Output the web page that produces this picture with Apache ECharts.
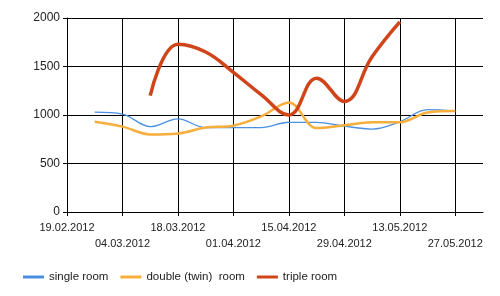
<!DOCTYPE html>
<html>
<head>
<meta charset="utf-8">
<script src="https://cdn.jsdelivr.net/npm/echarts@6/dist/echarts.min.js"></script>
<style>
html,body{margin:0;padding:0;background:#fff;}
#chart{width:500px;height:296px;}
</style>
</head>
<body>
<div id="chart"></div>
<script>
var categories = ['19.02.2012','26.02.2012','04.03.2012','11.03.2012','18.03.2012','25.03.2012','01.04.2012','08.04.2012','15.04.2012','22.04.2012','29.04.2012','06.05.2012','13.05.2012','20.05.2012','27.05.2012','03.06.2012'];
var singleRoom = [null,1030,1010,880,960,870,870,870,925,925,885,855,930,1055,1040,null];
var doubleRoom = [null,930,880,800,810,870,890,985,1130,865,895,925,925,1025,1040,null];
var tripleRoom = [null,null,null,1200,1730,1650,1440,1210,1000,1380,1140,1600,1960,null,null,null];
var yTicks = [0,500,1000,1500,2000];

var showIdx = function (i) { return i % 2 === 0 && i < categories.length - 1; };
var font = 'Liberation Sans';
var chart = echarts.init(document.getElementById('chart'), null, {renderer:'canvas'});
chart.setOption({
  animation:false,
  backgroundColor:'#fff',
  grid:{left:67,right:17,top:18,bottom:84},
  legend:{
    left:18, top:266, itemWidth:21, itemHeight:3, itemGap:12, icon:'rect',
    textStyle:{fontFamily:font,fontSize:11.5,color:'#222'},
    data:['single room','double (twin)  room','triple room']
  },
  xAxis:{
    type:'category', boundaryGap:false, data:categories,
    axisLine:{lineStyle:{color:'#000',width:1}},
    axisTick:{show:true,length:4,interval:function(i){return showIdx(i);},lineStyle:{color:'#000'}},
    splitLine:{show:true,interval:function(i){return showIdx(i);},lineStyle:{color:'#000',width:1}},
    axisLabel:{
      interval:function(i){return showIdx(i);},
      margin:8, fontFamily:font, fontSize:11, color:'#222', lineHeight:16,
      formatter:function(v,i){ return (i % 4 === 2) ? '\n' + v : v; }
    }
  },
  yAxis:{
    type:'value', min:yTicks[0], max:yTicks[yTicks.length-1], interval:500,
    axisLine:{show:true,lineStyle:{color:'#000',width:1}},
    axisTick:{show:true,length:4,lineStyle:{color:'#000'}},
    splitLine:{show:true,lineStyle:{color:'#000',width:1}},
    axisLabel:{margin:7,fontFamily:font,fontSize:12,color:'#222',formatter:function(v){return String(v);}}
  },
  series:[
    {name:'single room',type:'line',data:singleRoom,smooth:0.36,showSymbol:false,symbol:'none',
     lineStyle:{color:'#4a8fe0',width:1.3},itemStyle:{color:'#4a8fe0'}},
    {name:'double (twin)  room',type:'line',data:doubleRoom,smooth:0.36,showSymbol:false,symbol:'none',
     lineStyle:{color:'#f6ae3c',width:2.5},itemStyle:{color:'#f6ae3c'}},
    {name:'triple room',type:'line',data:tripleRoom,smooth:0.42,showSymbol:false,symbol:'none',
     lineStyle:{color:'#d0441a',width:3.5},itemStyle:{color:'#d0441a'}}
  ]
});
</script>
</body>
</html>
